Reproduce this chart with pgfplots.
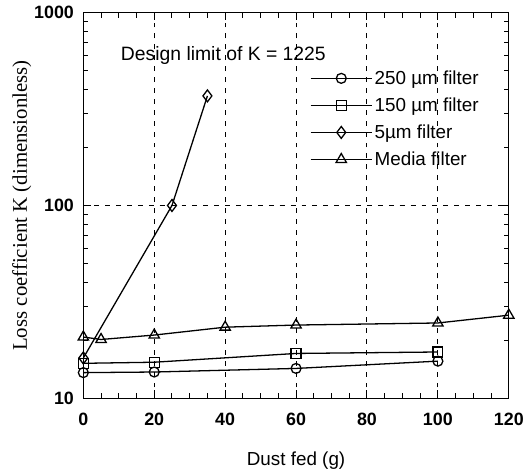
\documentclass[border=0pt]{standalone}
\usepackage{fontspec}
\setmainfont{Liberation Sans}
\newfontfamily\seriffont{Liberation Serif}
\usepackage{pgfplots}
\pgfplotsset{compat=1.18}
\begin{document}
\begin{tikzpicture}
\begin{axis}[
  scale only axis, width=429pt, height=389pt,
  ymode=log, xmin=0, xmax=120, ymin=10, ymax=1000,
  xtick={0,20,40,60,80,100,120}, minor x tick num=3,
  ytick={10,100,1000}, yticklabels={10,100,1000},
  tick align=inside, major tick length=8pt, minor tick length=5pt,
  grid=major,
  major grid style={black, line width=1pt, dash pattern=on 5pt off 6pt},
  axis line style={line width=1.3pt},
  every tick/.style={black, line width=1pt},
  /pgf/number format/assume math mode=true,
  ticklabel style={font=\fontsize{18}{20}\selectfont\bfseries},
  xticklabel style={yshift=-11pt},
  yticklabel style={xshift=-6pt},
  xlabel={Dust fed (g)},
  xlabel style={font=\fontsize{19}{21}\selectfont, yshift=-20pt},
  ylabel={\seriffont Loss coefficient K (dimensionless)},
  ylabel style={font=\fontsize{21}{23}\selectfont, yshift=-4pt},
  legend style={draw=none, fill=none, at={(0.525,0.86)}, anchor=north west,
    font=\fontsize{19}{21}\selectfont, row sep=8pt},
  legend cell align=left,
  legend image code/.code={
    \draw[#1, mark repeat=2, mark phase=2] plot coordinates {(0pt,0pt) (31pt,0pt) (62pt,0pt)};
  },
]
\addplot[black, line width=1.3pt, mark=o, mark size=5pt, mark options={fill=white}] coordinates {(0,13.6) (20,13.7) (60,14.3) (100,15.6)};
\addlegendentry{250 µm filter}
\addplot[black, line width=1.3pt, mark=square, mark size=5pt, mark options={fill=white}] coordinates {(0,15.2) (20,15.4) (60,17.1) (100,17.4)};
\addlegendentry{150 µm filter}
\addplot[black, line width=1.3pt, mark=diamond, mark size=6pt, mark options={fill=white}] coordinates {(0,16.2) (25,100) (35,370)};
\addlegendentry{5µm filter}
\addplot[black, line width=1.3pt, mark=triangle, mark size=6pt, mark options={fill=white}] coordinates {(0,20.8) (5,20.2) (20,21.3) (40,23.4) (60,24.0) (100,24.6) (120,27)};
\addlegendentry{Media filter}
\node[font=\fontsize{19.5}{22}\selectfont] at (axis cs:39.5,600) {Design limit of K = 1225};
\end{axis}
\path ([xshift=-9pt]current bounding box.west);
\path ([yshift=-3pt]current bounding box.south);
\path ([yshift=3pt]current bounding box.north);
\end{tikzpicture}
\end{document}
